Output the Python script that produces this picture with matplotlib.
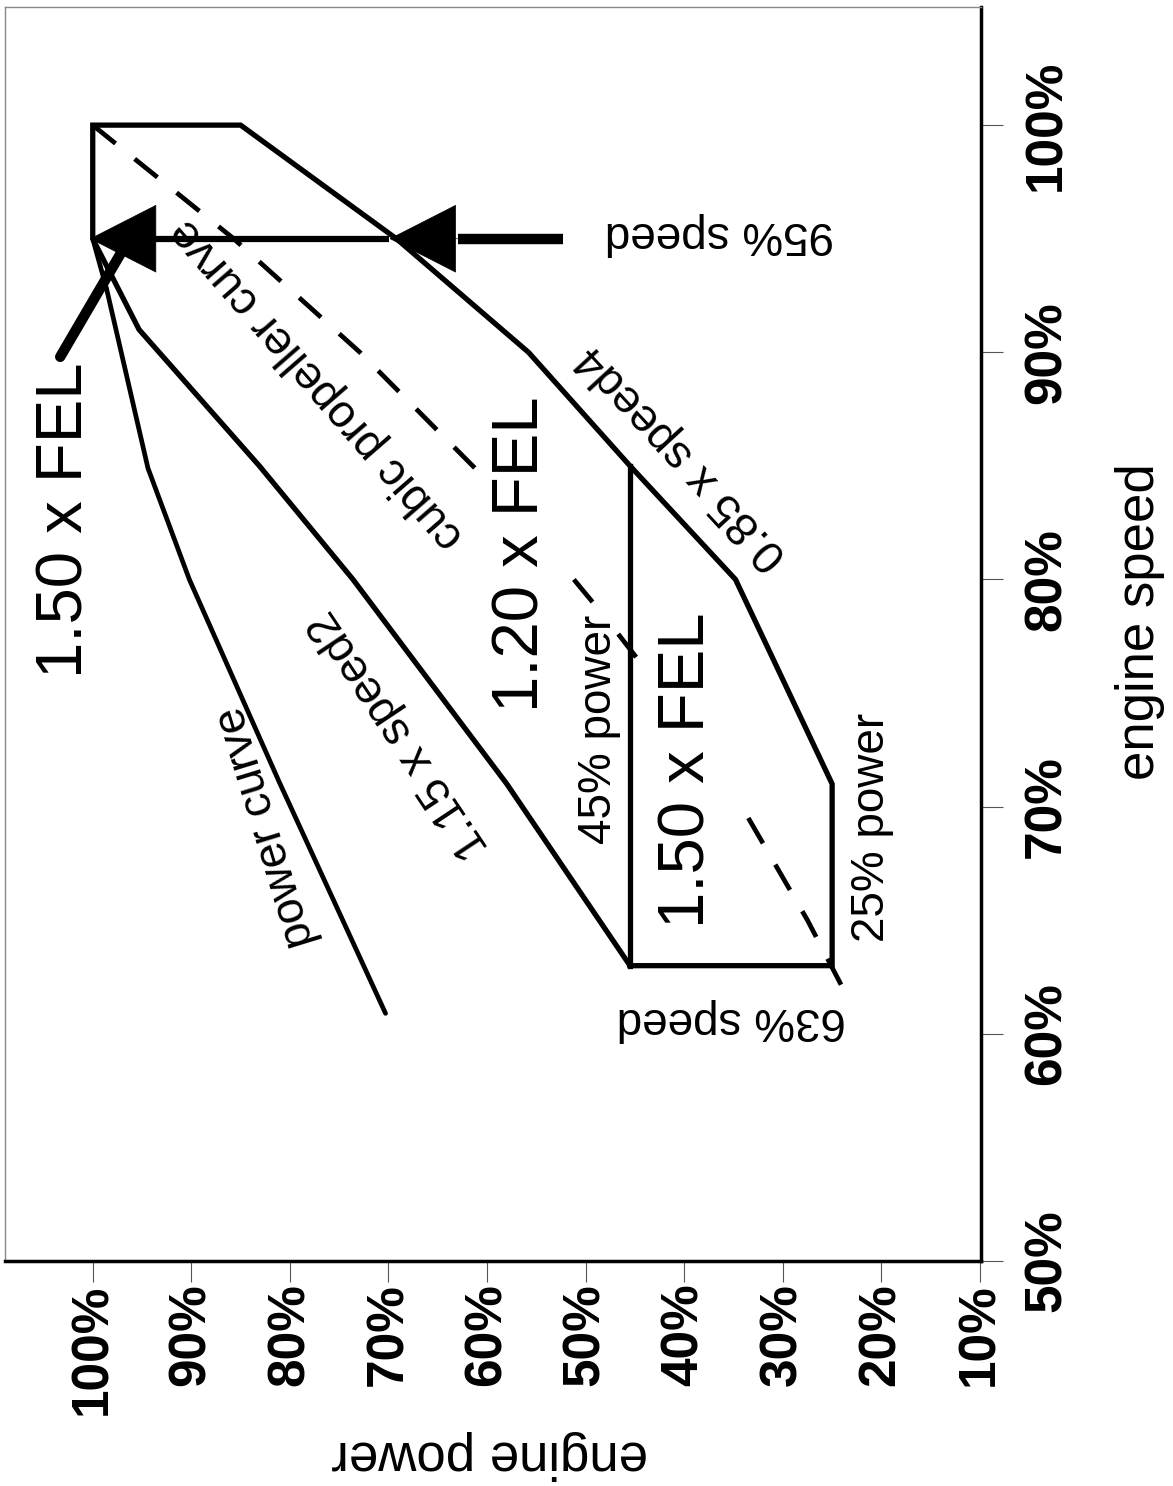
import matplotlib.pyplot as plt

plt.rcParams['font.family'] = ['Liberation Sans', 'DejaVu Sans']

# chart is printed on its side: engine power runs right-to-left along the
# bottom, engine speed runs upward along the right edge
power_ticks = [100, 90, 80, 70, 60, 50, 40, 30, 20, 10]
speed_ticks = [50, 60, 70, 80, 90, 100]

# measured power curve (speed %, power %)
pc_speed = [60.9, 71.1, 80.0, 84.9, 92.8, 95.0]
pc_power = [70.3, 81.1, 90.2, 94.4, 98.6, 100.0]

# test envelope: 1.15 x speed^2 up, 100% power, 0.85 x speed^4 down,
# 25% power, 63% speed
env_speed = [63, 71, 80, 85, 91, 95, 100, 100, 95, 90, 85, 80, 71, 63, 63]
env_power = [45.5, 58.0, 73.6, 83.1, 95.3, 100, 100, 85, 69.2, 55.8, 45.5, 34.8, 25, 25, 45.5]

# 45% power line inside the envelope
p45_speed = [85, 63]
p45_power = [45.5, 45.5]

# cubic propeller curve, pieces that are not covered by the labels
prop_a_speed = [100, 95, 90, 84.8]
prop_a_power = [100, 85.7, 72.9, 61.0]
prop_b_speed = [80.0, 78.9]
prop_b_power = [51.2, 49.1]
prop_c_speed = [77.6, 76.2]
prop_c_power = [46.7, 44.2]
prop_d_speed = [69.5, 65, 61.5]
prop_d_power = [33.5, 27.5, 23.3]

# 95% speed arrow
arrow_speed = 95
arrow_tail = 52.3
head1_base, head1_tip = 63.0, 69.9
head2_base, head2_tip = 94.0, 100.3

# 1.50 x FEL pointer
fel_speed = [89.8, 94.4]
fel_power = [103.3, 97.1]

fig = plt.figure(figsize=(11.73, 14.86), dpi=100)
ax = fig.add_axes([5 / 1173, 225 / 1486, 976 / 1173, 1254 / 1486])
ax.set_xlim(108.9, 9.9)
ax.set_ylim(50, 105.2)

lw = 3.8
ax.plot(env_power, env_speed, color='black', lw=lw, solid_joinstyle='miter')
ax.plot(p45_power, p45_speed, color='black', lw=lw)
ax.plot(pc_power, pc_speed, color='black', lw=3.4, solid_capstyle='round')

for pw, sp in [(prop_a_power, prop_a_speed), (prop_b_power, prop_b_speed),
               (prop_c_power, prop_c_speed), (prop_d_power, prop_d_speed)]:
    ln, = ax.plot(pw, sp, color='black', lw=3.4)
    ln.set_dashes((6.2, 5.2))

# arrows
ax.plot([arrow_tail, head1_base], [arrow_speed, arrow_speed], color='black', lw=7.5,
        solid_capstyle='butt')
ax.plot([head1_tip, head2_base], [arrow_speed, arrow_speed], color='black', lw=4.5,
        solid_capstyle='butt')
for base, tip in [(head1_base, head1_tip), (head2_base, head2_tip)]:
    ax.annotate('', xy=(tip, arrow_speed), xytext=(base, arrow_speed),
                arrowprops=dict(arrowstyle='-|>,head_length=47,head_width=24',
                                mutation_scale=1, lw=0.5, color='black',
                                shrinkA=0, shrinkB=0), zorder=5)
ax.plot(fel_power, fel_speed, color='black', lw=7.5, solid_capstyle='round')

# labels inside the plot
big = dict(fontsize=47, ha='center', va='center', rotation=90)
ax.text(102.8, 82.6, '1.50 x FEL', **big)
ax.text(56.5, 81.1, '1.20 x FEL', **big)
ax.text(39.7, 71.6, '1.50 x FEL', **big)

small = dict(fontsize=33, ha='center', va='center', rotation_mode='anchor')
ax.text(77.2, 88.6, 'cubic propeller curve', rotation=131, **small)
ax.text(82.4, 69.1, 'power curve', rotation=107, **small)
ax.text(68.9, 73.2, '1.15 x speed2', rotation=123.7, **small)
ax.text(40.2, 85.4, '0.85 x speed4', rotation=132.7, **small)
ax.text(36.4, 95.2, '95% speed', rotation=180, **small)
ax.text(35.2, 60.6, '63% speed', rotation=180, **small)
ax.text(48.6, 73.4, '45% power', rotation=90, **small)
ax.text(21.0, 69.1, '25% power', rotation=90, **small)

# axes
ax.set_xticks(power_ticks)
ax.set_xticklabels([f'{v}%' for v in power_ticks], rotation=90,
                   fontsize=37, fontweight='bold')
ax.yaxis.tick_right()
ax.set_yticks(speed_ticks)
ax.set_yticklabels([f'{v}%' for v in speed_ticks], rotation=90,
                   fontsize=37, fontweight='bold', va='center')
ax.tick_params(axis='x', length=15, width=0.8, color='#555555', pad=1)
ax.tick_params(axis='y', length=16, width=0.8, color='#555555', pad=14)

for side in ['left', 'top']:
    ax.spines[side].set_color('#888888')
    ax.spines[side].set_linewidth(1)
for side in ['right', 'bottom']:
    ax.spines[side].set_color('black')
    ax.spines[side].set_linewidth(2.5)

fig.text(490 / 1173, 1 - 1455 / 1486, 'engine power', rotation=180,
         fontsize=38, ha='center', va='center')
fig.text(1140 / 1173, 1 - 622 / 1486, 'engine speed', rotation=90,
         fontsize=38, ha='center', va='center')

fig.savefig('out.png', dpi=100)
